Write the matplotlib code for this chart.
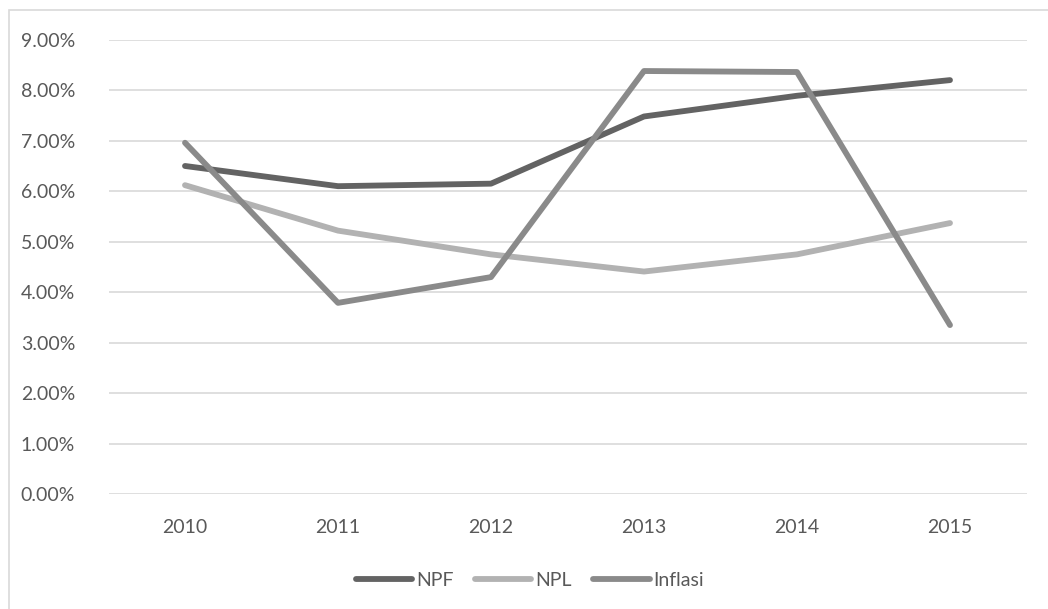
import matplotlib
matplotlib.use("Agg")
import matplotlib.pyplot as plt
from matplotlib.patches import Rectangle
from matplotlib.ticker import FuncFormatter

years = ["2010", "2011", "2012", "2013", "2014", "2015"]
npf = [6.50, 6.10, 6.15, 7.48, 7.89, 8.20]
npl = [6.12, 5.22, 4.75, 4.41, 4.75, 5.37]
inflasi = [6.96, 3.79, 4.30, 8.38, 8.36, 3.35]

plt.rcParams["font.family"] = ["Lato", "DejaVu Sans"]

W, H = 1048, 609
fig = plt.figure(figsize=(W / 100, H / 100), dpi=100)
fig.patch.set_facecolor("white")

# chart frame (right and bottom edges fall outside the canvas)
fig.patches.append(Rectangle((9 / W, -0.2), 1.2, 1.2 - 10 / H, transform=fig.transFigure,
                             fill=False, edgecolor="#d9d9d9", linewidth=1.2))

left, right = 108.5 / W, 1026.5 / W
bottom, top = 1 - 494.3 / H, 1 - 39.7 / H
ax = fig.add_axes([left, bottom, right - left, top - bottom])

x = list(range(len(years)))
series = [("NPF", npf, "#636363"), ("NPL", npl, "#b2b2b2"), ("Inflasi", inflasi, "#8a8a8a")]
for name, vals, col in series:
    ax.plot(x, vals, color=col, linewidth=4.2, solid_capstyle="round",
            solid_joinstyle="round", label=name, zorder=3)

ax.set_xlim(-0.5, len(years) - 0.5)
ax.set_ylim(0, 9)
ax.set_yticks(range(0, 10))
ax.yaxis.set_major_formatter(FuncFormatter(lambda v, p: f"{v:.2f}%"))
ax.set_xticks(x)
ax.set_xticklabels(years)
ax.grid(axis="y", color="#d9d9d9", linewidth=1.2)
ax.set_axisbelow(True)
for s in ax.spines.values():
    s.set_visible(False)
ax.tick_params(axis="both", length=0, labelsize=14, colors="#595959")
ax.tick_params(axis="y", pad=24)
ax.tick_params(axis="x", pad=18)

leg = fig.legend(loc="center", bbox_to_anchor=(530 / W, 1 - 580 / H), ncol=3,
                 frameon=False, fontsize=14, handlelength=2.9, handletextpad=0.2,
                 columnspacing=1.1)
for t in leg.get_texts():
    t.set_color("#595959")

fig.savefig("out.png", dpi=100, facecolor="white")
